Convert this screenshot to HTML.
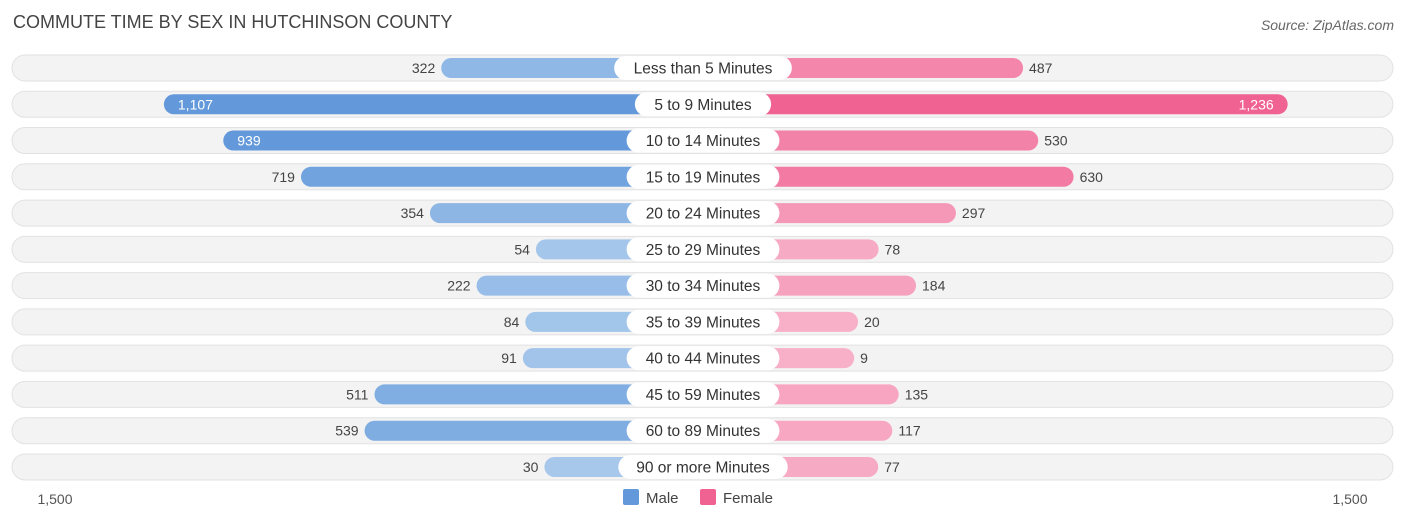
<!DOCTYPE html>
<html><head><meta charset="utf-8"><style>
body{margin:0;background:#fff;font-family:"Liberation Sans",sans-serif;}
</style></head><body>
<svg id="c" width="1406" height="523" xmlns="http://www.w3.org/2000/svg">
<text x="13" y="28" font-size="18" fill="#444">COMMUTE TIME BY SEX IN HUTCHINSON COUNTY</text>
<text x="1394" y="30" font-size="14" fill="#666" font-style="italic" text-anchor="end">Source: ZipAtlas.com</text>
<g id="rows"></g>
<text x="55" y="504" font-size="14" fill="#555" text-anchor="middle">1,500</text>
<text x="1350" y="504" font-size="14" fill="#555" text-anchor="middle">1,500</text>
<g>
<rect x="623" y="489" width="16" height="16" rx="2" fill="#6399da"/>
<text x="646" y="503" font-size="15" fill="#444">Male</text>
<rect x="700" y="489" width="16" height="16" rx="2" fill="#f06292"/>
<text x="723" y="503" font-size="15" fill="#444">Female</text>
</g>
</svg>
<script>
const categories=["Less than 5 Minutes","5 to 9 Minutes","10 to 14 Minutes","15 to 19 Minutes","20 to 24 Minutes","25 to 29 Minutes","30 to 34 Minutes","35 to 39 Minutes","40 to 44 Minutes","45 to 59 Minutes","60 to 89 Minutes","90 or more Minutes"];
const maleValues=[322,1107,939,719,354,54,222,84,91,511,539,30];
const femaleValues=[487,1236,530,630,297,78,184,20,9,135,117,77];
const NS="http://www.w3.org/2000/svg";
const cx=703, off=148, k=0.3533, y0=68, dy=36.27, bh=20;
function len(v){return off+v*k;}
function mix(a,b,t){const p=s=>[1,3,5].map(i=>parseInt(s.substr(i,2),16));const A=p(a),B=p(b);return "rgb("+A.map((x,i)=>Math.round(x+(B[i]-x)*t)).join(",")+")";}
function fmt(v){return v.toLocaleString("en-US");}
const g=document.getElementById("rows");
function el(tag,attrs){const e=document.createElementNS(NS,tag);for(const a in attrs)e.setAttribute(a,attrs[a]);return e;}
categories.forEach((cat,i)=>{
  const y=y0+i*dy;
  const bg=el("rect",{x:12,y:y-13,width:1381,height:26,rx:13,fill:"#f3f3f3",stroke:"#e2e2e2"});
  
  
  g.appendChild(bg);
  const m=maleValues[i], f=femaleValues[i];
  const ml=len(m), fl=len(f);
  const mb=el("rect",{x:cx-ml,y:y-bh/2,width:ml,height:bh,rx:10,fill:mix("#a9c9ec","#6399da",Math.min(1,m/900))});
  
  
  g.appendChild(mb);
  const fb=el("rect",{x:cx,y:y-bh/2,width:fl,height:bh,rx:10,fill:mix("#f8b1c9","#f06292",Math.min(1,f/900))});
  
  
  g.appendChild(fb);
  const inM=m>800, inF=f>800;
  const mt=el("text",{x:inM?cx-ml+14:cx-ml-6,y:y+5,"font-size":14,fill:inM?"#fff":"#444","text-anchor":inM?"start":"end"});
  mt.textContent=fmt(m);
  
  
  g.appendChild(mt);
  const ft=el("text",{x:inF?cx+fl-14:cx+fl+6,y:y+5,"font-size":14,fill:inF?"#fff":"#444","text-anchor":inF?"end":"start"});
  ft.textContent=fmt(f);
  
  
  g.appendChild(ft);
  const w=cat.length*8.3+20;
  const lb=el("rect",{x:cx-w/2,y:y-12,width:w,height:24,rx:12,fill:"#fff"});
  
  
  g.appendChild(lb);
  const lt=el("text",{x:cx,y:y+5.5,"font-size":15.5,fill:"#333","text-anchor":"middle"});
  lt.textContent=cat;
  
  
  g.appendChild(lt);
});
</script>
</body></html>
